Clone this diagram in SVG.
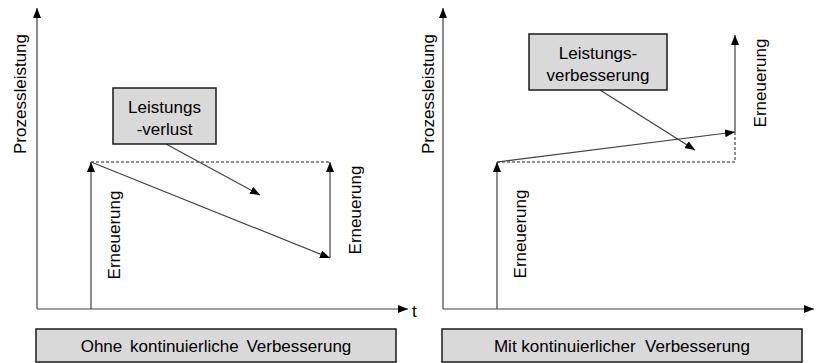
<svg xmlns="http://www.w3.org/2000/svg" width="818" height="363" viewBox="0 0 818 363">
  <style>
    .ln { stroke: #404040; stroke-width: 1.2; fill: none; }
    .dash { stroke: #202020; stroke-width: 1; fill: none; stroke-dasharray: 3 2; }
    .box { fill: #d9d9d9; stroke: #1a1a1a; stroke-width: 1.5; }
    .tx { font-family: "Liberation Sans", Arial, sans-serif; font-size: 17px; fill: #000; }
    .mid { text-anchor: middle; }
  </style>
  <defs>
    <marker id="arr" markerUnits="userSpaceOnUse" markerWidth="11" markerHeight="9" refX="10" refY="4" orient="auto">
      <path d="M0,0 L10,4 L0,8 z" fill="#000"/>
    </marker>
  </defs>
  <rect width="818" height="363" fill="#fff"/>

  <!-- Left chart: without continuous improvement -->
  <g id="left-axes">
    <line class="ln" x1="37" y1="309" x2="37" y2="8" marker-end="url(#arr)"/>
    <line class="ln" x1="37" y1="309" x2="408" y2="309" marker-end="url(#arr)"/>
    <text class="tx mid" transform="translate(26,94) rotate(-90)">Prozessleistung</text>
    <text class="tx" x="412" y="317">t</text>
  </g>

  <g id="connectors-left">
    <line class="dash" x1="91" y1="162" x2="330" y2="162"/>
    <line class="ln" x1="91" y1="309" x2="91" y2="162" marker-end="url(#arr)"/>
    <line class="ln" x1="91" y1="162" x2="330" y2="258" marker-end="url(#arr)"/>
    <line class="ln" x1="330" y1="258" x2="330" y2="162" marker-end="url(#arr)"/>
    <line class="ln" x1="166" y1="144" x2="260" y2="195" marker-end="url(#arr)"/>
  </g>

  <g id="label-erneuerung-l1">
    <text class="tx mid" transform="translate(120,235) rotate(-90)">Erneuerung</text>
  </g>
  <g id="label-erneuerung-l2">
    <text class="tx mid" transform="translate(361,210) rotate(-90)">Erneuerung</text>
  </g>

  <g id="box-leistungsverlust">
    <rect class="box" x="113" y="88" width="103" height="56"/>
    <text class="tx mid" x="164.5" y="113">Leistungs</text>
    <text class="tx mid" x="164.5" y="135">-verlust</text>
  </g>

  <g id="caption-left">
    <rect class="box" x="36" y="329" width="360" height="33"/>
    <text class="tx mid" x="216" y="352" word-spacing="3">Ohne kontinuierliche Verbesserung</text>
  </g>

  <!-- Right chart: with continuous improvement -->
  <g id="right-axes">
    <line class="ln" x1="443" y1="309" x2="443" y2="8" marker-end="url(#arr)"/>
    <line class="ln" x1="443" y1="309" x2="814" y2="309" marker-end="url(#arr)"/>
    <text class="tx mid" transform="translate(434,94) rotate(-90)">Prozessleistung</text>
  </g>

  <g id="connectors-right">
    <polyline class="dash" points="497,162 735,162 735,132"/>
    <line class="ln" x1="497" y1="309" x2="497" y2="162" marker-end="url(#arr)"/>
    <line class="ln" x1="497" y1="162" x2="735" y2="132" marker-end="url(#arr)"/>
    <line class="ln" x1="735" y1="132" x2="735" y2="35" marker-end="url(#arr)"/>
    <line class="ln" x1="600" y1="90" x2="695" y2="150" marker-end="url(#arr)"/>
  </g>

  <g id="label-erneuerung-r1">
    <text class="tx mid" transform="translate(526,234) rotate(-90)">Erneuerung</text>
  </g>
  <g id="label-erneuerung-r2">
    <text class="tx mid" transform="translate(766,83) rotate(-90)">Erneuerung</text>
  </g>

  <g id="box-leistungsverbesserung">
    <rect class="box" x="529" y="34" width="138" height="56"/>
    <text class="tx mid" x="598" y="59">Leistungs-</text>
    <text class="tx mid" x="598" y="81">verbesserung</text>
  </g>

  <g id="caption-right">
    <rect class="box" x="442" y="329" width="360" height="33"/>
    <text class="tx mid" x="622" y="352" xml:space="preserve">Mit kontinuierlicher  Verbesserung</text>
  </g>
</svg>
